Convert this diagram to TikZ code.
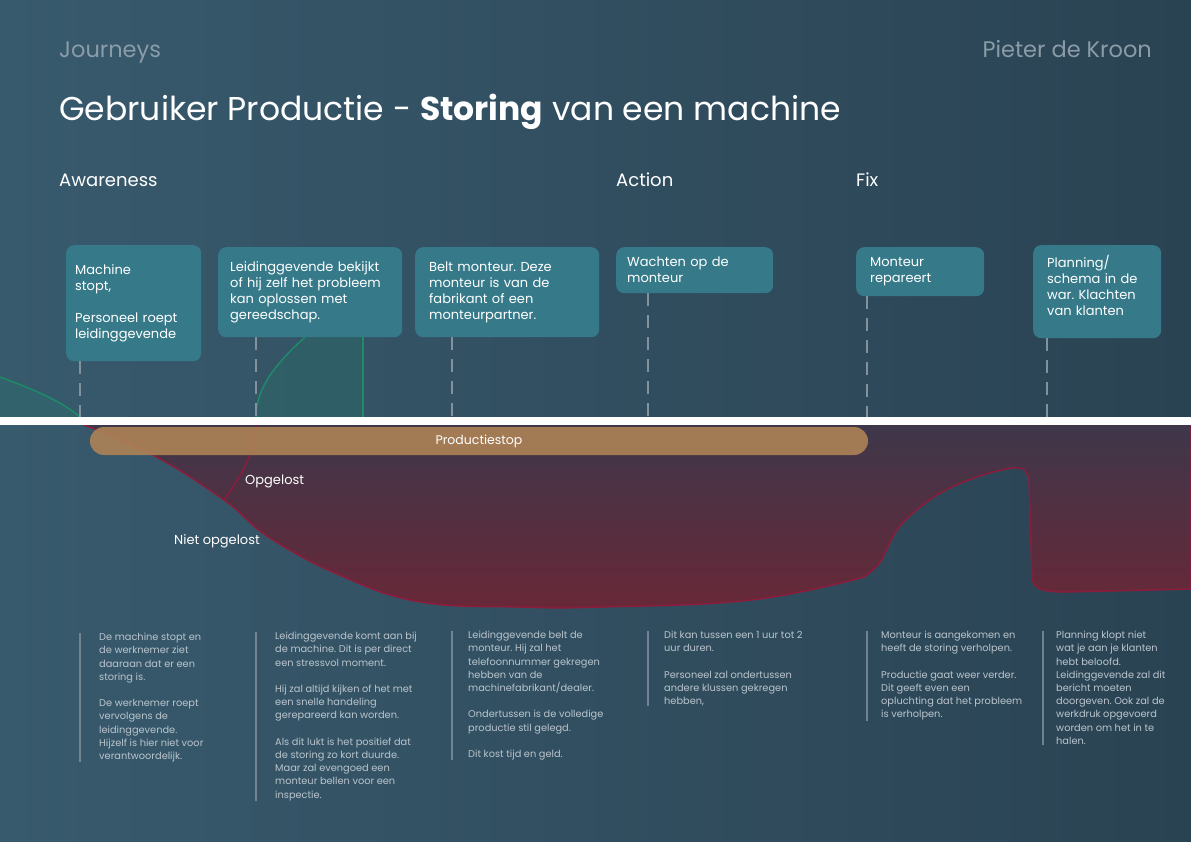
\documentclass[tikz,border=0pt]{standalone}
\usepackage{fontspec}
\setmainfont{Poppins}
\usetikzlibrary{calc}
\usetikzlibrary{positioning}

\definecolor{bgleft}{RGB}{56,90,109}
\definecolor{bgright}{RGB}{42,67,83}
\definecolor{cardteal}{RGB}{54,122,138}
\definecolor{stemgray}{RGB}{128,146,158}
\definecolor{greenline}{RGB}{30,138,106}
\definecolor{redline}{RGB}{140,28,60}
\definecolor{redtop}{RGB}{62,55,74}
\definecolor{redbottom}{RGB}{104,40,56}
\definecolor{stopbar}{RGB}{176,132,86}
\definecolor{softgray}{RGB}{138,156,168}
\definecolor{notegray}{RGB}{186,197,205}

\tikzset{
  card/.style={anchor=north west, fill=cardteal, rounded corners=8pt, text=white, align=left, inner ysep=0pt, font=\fontsize{13}{16}\selectfont},
  stem/.style={stemgray, line width=2pt, dash pattern=on 13pt off 9pt},
  note/.style={anchor=north west, inner sep=0pt, align=left, text=notegray, font=\fontsize{9.8}{13.2}\selectfont},
  notebar/.style={stemgray, line width=2pt, opacity=0.8},
  phase/.style={anchor=base west, inner sep=0pt, text=white, font=\fontsize{18}{22}\selectfont},
  label/.style={anchor=west, inner sep=0pt, text=white, font=\fontsize{13}{16}\selectfont},
}

\begin{document}
\frenchspacing
\begin{tikzpicture}[x=1pt, y=-1pt]

\useasboundingbox (0,0) rectangle (1191,842);
\shade[left color=bgleft, right color=bgright] (0,0) rectangle (1191,842);

\coordinate (s1) at (80,417);
\coordinate (s2) at (256,417);
\coordinate (s3) at (452,417);
\coordinate (s4) at (648,417);
\coordinate (s5) at (867,417);
\coordinate (s6) at (1047,417);

% header
\node[anchor=base west, inner sep=0pt, text=softgray, font=\fontsize{22.5}{26}\selectfont] (journeys) at (59,58) {Journeys};
\node[anchor=base east, inner sep=0pt, text=softgray, font=\fontsize{22.5}{26}\selectfont] (author) at (1152,58) {Pieter de Kroon};
\node[anchor=base west, inner sep=0pt, text=white, font=\fontsize{33}{40}\selectfont] (title) at (59,121) {Gebruiker Productie - \textbf{Storing} van een machine};

\node[phase] (awareness) at (59,187) {Awareness};
\node[phase] (action) at (616,187) {Action};
\node[phase] (fix) at (856,187) {Fix};

% green areas
\fill[greenline, opacity=0.2] (0,377) .. controls (30,388) and (60,400) .. (80,417) -- (0,417) -- cycle;
\draw[greenline, line width=1.5pt] (0,377) .. controls (30,388) and (60,400) .. (80,417);
\fill[greenline, opacity=0.2] (256,417) .. controls (256,385) and (280,360) .. (305,337) -- (363,337) -- (363,417) -- cycle;
\draw[greenline, line width=1.5pt] (256,417) .. controls (256,385) and (280,360) .. (305,337);
\draw[greenline, line width=1.5pt] (363,337) -- (363,417);

% red area
\shade[top color=redtop, bottom color=redbottom] plot[smooth, tension=0.7] coordinates {(84,425) (153,455) (224,500) (270,538) (344,577) (421,602) (520,607) (600,607) (751,600) (864,577)}
  -- plot[smooth, tension=0.6] coordinates {(864,577) (880,562) (900,526) (937,495) (977,477) (1012,468) (1025,470)}
  -- (1029,478) -- (1032,578) .. controls (1034,590) and (1045,592) .. (1065,592) -- (1191,589) -- (1191,425) -- cycle;
\draw[redline, line width=1.5pt] plot[smooth, tension=0.7] coordinates {(84,425) (153,455) (224,500) (270,538) (344,577) (421,602) (520,607) (600,607) (751,600) (864,577)}
  -- plot[smooth, tension=0.6] coordinates {(864,577) (880,562) (900,526) (937,495) (977,477) (1012,468) (1025,470)}
  -- (1029,478) -- (1032,578) .. controls (1034,590) and (1045,592) .. (1065,592) -- (1191,589) -- (1191,425);
\draw[redline, line width=1.5pt] (256,425) .. controls (256,450) and (242,475) .. (224,500);

\node[label] (opgelost) at (245,481) {Opgelost};
\node[label] (nietopgelost) at (174,541) {Niet opgelost};

\node[fill=stopbar, fill opacity=0.88, text opacity=1, text=white, rounded corners=14pt, minimum width=778pt, minimum height=28pt, inner sep=0pt, font=\fontsize{12.5}{15}\selectfont] (stop) at (479,441) {Productiestop};

\fill[white] (0,417) rectangle (1191,425);

% cards
\node[card, minimum height=116pt, text width=117pt, inner xsep=9pt] (c1) at (66,245) {Machine\\stopt,\\[16pt]Personeel roept\\leidinggevende};
\node[card, minimum height=90pt, text width=160pt, inner xsep=12pt] (c2) at (218,247) {Leidinggevende bekijkt\\of hij zelf het probleem\\kan oplossen met\\gereedschap.};
\node[card, minimum height=90pt, text width=156pt, inner xsep=14pt] (c3) at (415,247) {Belt monteur. Deze\\monteur is van de\\fabrikant of een\\monteurpartner.};
\node[card, minimum height=46pt, text width=135pt, inner xsep=11pt] (c4) at (616,247) {Wachten op de\\monteur};
\node[card, minimum height=49pt, text width=100pt, inner xsep=14pt] (c5) at (856,247) {Monteur\\repareert};
\node[card, minimum height=93pt, text width=100pt, inner xsep=14pt] (c6) at (1033,245) {Planning/\\schema in de\\war. Klachten\\van klanten\\[-4pt]\mbox{}};

\draw[stem] (c1.south -| s1) -- (s1);
\draw[stem] (c2.south -| s2) -- (s2);
\draw[stem] (c3.south -| s3) -- (s3);
\draw[stem] (c4.south -| s4) -- (s4);
\draw[stem] (c5.south -| s5) -- (s5);
\draw[stem] (c6.south -| s6) -- (s6);

% notes
\node[note] (n1) at (99,633) {De machine stopt en\\de werknemer ziet\\daaraan dat er een\\storing is.\\[13.2pt]De werknemer roept\\vervolgens de\\leidinggevende.\\Hijzelf is hier niet voor\\verantwoordelijk.};
\node[note] (n2) at (275,632) {Leidinggevende komt aan bij\\de machine. Dit is per direct\\een stressvol moment.\\[13.2pt]Hij zal altijd kijken of het met\\een snelle handeling\\gerepareerd kan worden.\\[13.2pt]Als dit lukt is het positief dat\\de storing zo kort duurde.\\Maar zal evengoed een\\monteur bellen voor een\\inspectie.};
\node[note] (n3) at (468,631) {Leidinggevende belt de\\monteur. Hij zal het\\telefoonnummer gekregen\\hebben van de\\machinefabrikant/dealer.\\[13.2pt]Ondertussen is de volledige\\productie stil gelegd.\\[13.2pt]Dit kost tijd en geld.};
\node[note] (n4) at (664,631) {Dit kan tussen een 1 uur tot 2\\uur duren.\\[13.2pt]Personeel zal ondertussen\\andere klussen gekregen\\hebben,};
\node[note] (n5) at (881,631) {Monteur is aangekomen en\\heeft de storing verholpen.\\[13.2pt]Productie gaat weer verder.\\Dit geeft even een\\opluchting dat het probleem\\is verholpen.};
\node[note] (n6) at (1056,631) {Planning klopt niet\\wat je aan je klanten\\hebt beloofd.\\Leidinggevende zal dit\\bericht moeten\\doorgeven. Ook zal de\\werkdruk opgevoerd\\worden om het in te\\halen.};

\draw[notebar] (n1.north west -| s1) -- (n1.south west -| s1);
\draw[notebar] (n2.north west -| s2) -- (n2.south west -| s2);
\draw[notebar] (n3.north west -| s3) -- (n3.south west -| s3);
\draw[notebar] (n4.north west -| s4) -- (n4.south west -| s4);
\draw[notebar] (n5.north west -| s5) -- (n5.south west -| s5);
\draw[notebar] ([xshift=-4pt]n6.north west -| s6) -- ([xshift=-4pt]n6.south west -| s6);

\end{tikzpicture}
\end{document}
